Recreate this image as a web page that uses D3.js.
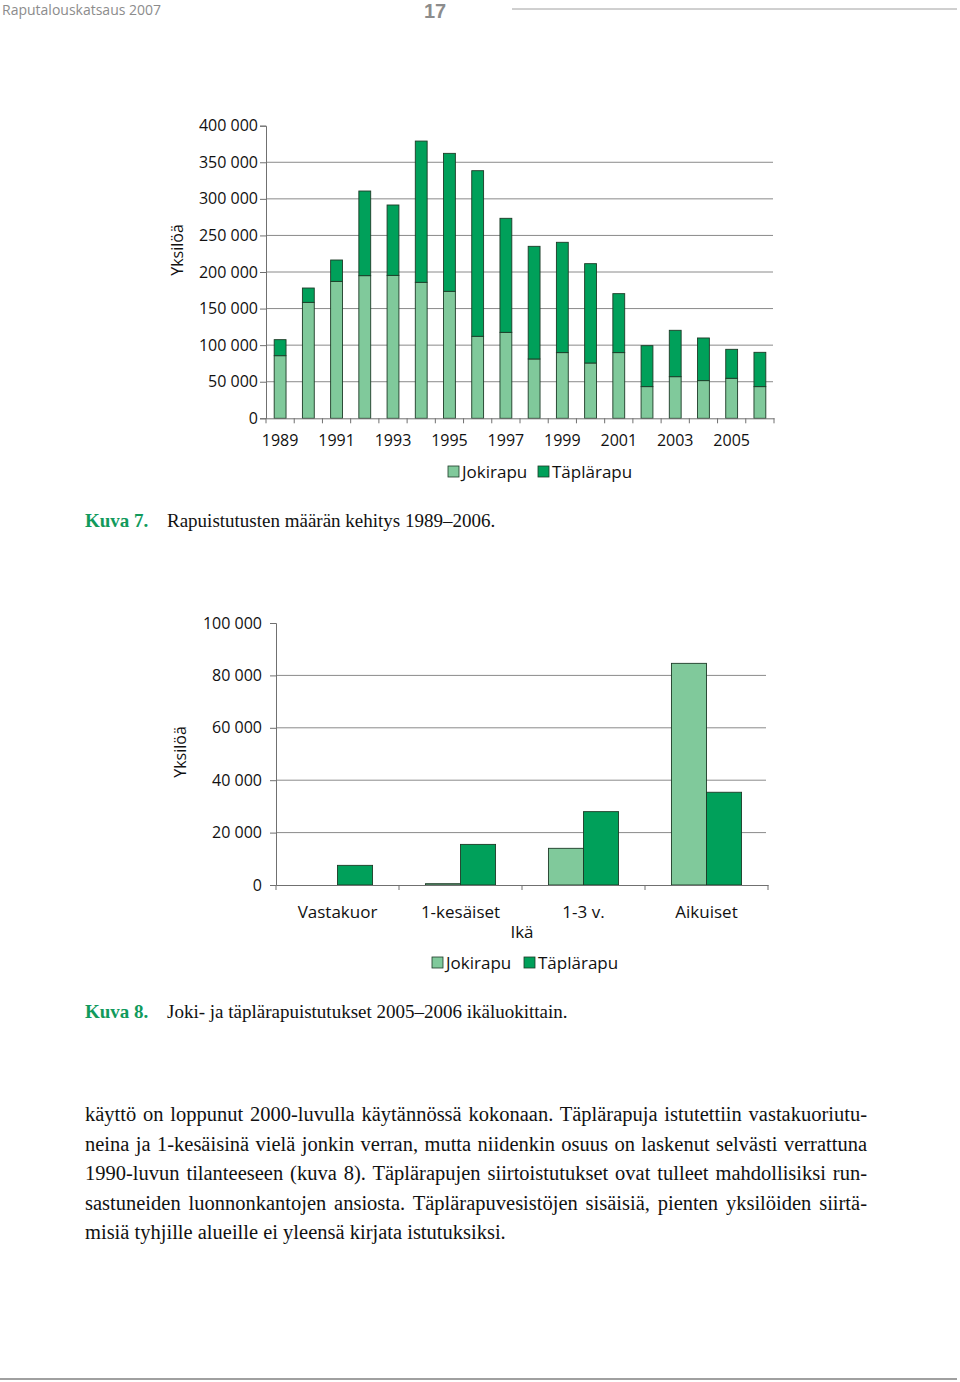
<!DOCTYPE html>
<html>
<head>
<meta charset="utf-8">
<script src="https://cdn.jsdelivr.net/npm/d3@7"></script>
<style>
  body { margin: 0; background: #fff; }
  #page { position: relative; width: 960px; height: 1382px; }
  svg { position: absolute; left: 0; top: 0; }
  .line { position: absolute; left: 85px; width: 782px; font-family: "Liberation Serif", serif;
          font-size: 20.5px; color: #111; white-space: nowrap; text-align: justify; text-align-last: justify; }
  .line.last { text-align-last: left; }
</style>
</head>
<body>
<div id="page"></div>
<script>
// chart 1: istutukset 1989-2006
var years = d3.range(1989, 2007);
var jokiTotal = [85600, 158500, 187200, 195000, 195400, 185900, 173600, 112100, 117500, 81100, 89800, 75600, 89800, 43300, 56900, 51500, 54700, 43300];
var kaikkiTotal = [107500, 178100, 216400, 310700, 291600, 379000, 362200, 338500, 273400, 235100, 240600, 211400, 170400, 99300, 120300, 109800, 94300, 90200];
var taplaTotal = kaikkiTotal.map((d, i) => d - jokiTotal[i]);

// chart 2: ikäluokat 2005-2006
var ages = ["Vastakuor", "1-kesäiset", "1-3 v.", "Aikuiset"];
var jokiAge = [0, 500, 14000, 84600];
var taplaAge = [7500, 15500, 28000, 35400];

var series = ["Jokirapu", "Täplärapu"];
var colors = { "Jokirapu": "#80c99b", "Täplärapu": "#00a05a" };

var bodyLines = [
    "käyttö on loppunut 2000-luvulla käytännössä kokonaan. Täplärapuja istutettiin vastakuoriutu-",
    "neina ja 1-kesäisinä vielä jonkin verran, mutta niidenkin osuus on laskenut selvästi verrattuna",
    "1990-luvun tilanteeseen (kuva 8). Täplärapujen siirtoistutukset ovat tulleet mahdollisiksi run-",
    "sastuneiden luonnonkantojen ansiosta. Täplärapuvesistöjen sisäisiä, pienten yksilöiden siirtä-",
    "misiä tyhjille alueille ei yleensä kirjata istutuksiksi."
];

var fmt = d3.formatLocale({ decimal: ",", thousands: " ", grouping: [3], currency: ["", "€"] }).format(",d");
var sans = "'Open Sans', sans-serif";
var axisColor = "#707070";

var page = d3.select("#page");
var svg = page.append("svg").attr("width", 960).attr("height", 1382);

// header
svg.append("text").attr("x", 2).attr("y", 15).text("Raputalouskatsaus 2007")
    .style("font-family", "'Liberation Sans Narrow', 'Open Sans', sans-serif").style("font-size", "14px").attr("fill", "#8c8c8c");
svg.append("text").attr("x", 424).attr("y", 18).text("17")
    .style("font-family", "'Liberation Sans Narrow', sans-serif").style("font-size", "20px").style("font-weight", "bold").attr("fill", "#8c8c8c");
svg.append("line").attr("x1", 512).attr("x2", 957).attr("y1", 9).attr("y2", 9).attr("stroke", "#a0a0a0");
svg.append("line").attr("x1", 0).attr("x2", 957).attr("y1", 1379).attr("y2", 1379).attr("stroke", "#a0a0a0").attr("stroke-width", 2);

function legend(g, x, y, gap) {
    var pos = [0, gap];
    series.forEach((s, i) => {
        g.append("rect").attr("x", x + pos[i]).attr("y", y - 6).attr("width", 11).attr("height", 11)
            .attr("fill", colors[s]).attr("stroke", "#1d3b27").attr("stroke-width", 0.8);
        g.append("text").attr("x", x + pos[i] + 14).attr("y", y).attr("dy", "0.35em").text(s)
            .style("font-family", sans).style("font-size", "17px").attr("fill", "#111");
    });
}

function caption(y, num, txt) {
    svg.append("text").attr("x", 85).attr("y", y).text(num)
        .style("font-family", "'Liberation Serif', serif").style("font-size", "19px").style("font-weight", "bold").attr("fill", "#119a5c");
    svg.append("text").attr("x", 167).attr("y", y).text(txt)
        .style("font-family", "'Liberation Serif', serif").style("font-size", "19px").attr("fill", "#111");
}

// ---------- Kuva 7 ----------
var g1 = svg.append("g");
var x1 = d3.scaleBand().domain(years).range([266, 774]).paddingInner(0.58).paddingOuter(0.29);
var y1 = d3.scaleLinear().domain([0, 400000]).range([418.3, 125.7]);

g1.selectAll(".grid").data(d3.range(50000, 400000, 50000)).enter().append("line")
    .attr("x1", 266).attr("x2", 773).attr("y1", d => y1(d)).attr("y2", d => y1(d))
    .attr("stroke", "#8a8a8a").attr("stroke-width", 1);

var stack1 = years.map((yr, i) => ({ year: yr, joki: jokiTotal[i], tapla: taplaTotal[i] }));
g1.selectAll(".joki").data(stack1).enter().append("rect")
    .attr("x", d => x1(d.year)).attr("width", x1.bandwidth())
    .attr("y", d => y1(d.joki)).attr("height", d => y1(0) - y1(d.joki))
    .attr("fill", colors["Jokirapu"]).attr("stroke", "#1d3b27").attr("stroke-width", 0.9);
g1.selectAll(".tapla").data(stack1).enter().append("rect")
    .attr("x", d => x1(d.year)).attr("width", x1.bandwidth())
    .attr("y", d => y1(d.joki + d.tapla)).attr("height", d => y1(d.joki) - y1(d.joki + d.tapla))
    .attr("fill", colors["Täplärapu"]).attr("stroke", "#1d3b27").attr("stroke-width", 0.9);

var yAx1 = g1.append("g").attr("transform", "translate(266,0)")
    .call(d3.axisLeft(y1).tickValues(d3.range(0, 400001, 50000)).tickFormat(fmt).tickSize(6).tickPadding(2));
var xAx1 = g1.append("g").attr("transform", "translate(0," + y1(0) + ")")
    .call(d3.axisBottom(x1).tickValues(years.filter((d, i) => i % 2 === 0)).tickSize(0).tickPadding(16));
// tick marks between bands
g1.selectAll(".btick").data(d3.range(years.length + 1)).enter().append("line")
    .attr("x1", i => x1.range()[0] + i * x1.step()).attr("x2", i => x1.range()[0] + i * x1.step())
    .attr("y1", y1(0)).attr("y2", y1(0) + 5).attr("stroke", axisColor);

g1.append("text").attr("transform", "translate(183,250) rotate(-90)").attr("text-anchor", "middle")
    .text("Yksilöä").style("font-family", sans).style("font-size", "16px").attr("fill", "#111");
legend(g1, 448, 472, 90);
caption(527, "Kuva 7.", "Rapuistutusten määrän kehitys 1989–2006.");

// ---------- Kuva 8 ----------
var g2 = svg.append("g");
var x2 = d3.scaleBand().domain(ages).range([276, 768]).paddingInner(0.43).paddingOuter(0.215);
var xs = d3.scaleBand().domain(series).range([0, x2.bandwidth()]);
var y2 = d3.scaleLinear().domain([0, 100000]).range([885, 623]);

g2.selectAll(".grid").data(d3.range(20000, 100000, 20000)).enter().append("line")
    .attr("x1", 276).attr("x2", 766).attr("y1", d => y2(d)).attr("y2", d => y2(d))
    .attr("stroke", "#8a8a8a").attr("stroke-width", 1);

var rows2 = [];
ages.forEach((a, i) => {
    rows2.push({ age: a, s: "Jokirapu", v: jokiAge[i] });
    rows2.push({ age: a, s: "Täplärapu", v: taplaAge[i] });
});
g2.selectAll(".bar").data(rows2.filter(d => d.v > 0)).enter().append("rect")
    .attr("x", d => x2(d.age) + xs(d.s)).attr("width", xs.bandwidth())
    .attr("y", d => y2(d.v)).attr("height", d => y2(0) - y2(d.v))
    .attr("fill", d => colors[d.s]).attr("stroke", "#1d3b27").attr("stroke-width", 0.9);

var yAx2 = g2.append("g").attr("transform", "translate(276,0)")
    .call(d3.axisLeft(y2).tickValues(d3.range(0, 100001, 20000)).tickFormat(fmt).tickSize(6).tickPadding(8));
var xAx2 = g2.append("g").attr("transform", "translate(0," + y2(0) + ")")
    .call(d3.axisBottom(x2).tickSize(0).tickPadding(21));
g2.selectAll(".btick").data(d3.range(ages.length + 1)).enter().append("line")
    .attr("x1", i => x2.range()[0] + i * x2.step()).attr("x2", i => x2.range()[0] + i * x2.step())
    .attr("y1", y2(0)).attr("y2", y2(0) + 5).attr("stroke", axisColor);

g2.append("text").attr("x", 522).attr("y", 932).attr("dy", "0.35em").attr("text-anchor", "middle")
    .text("Ikä").style("font-family", sans).style("font-size", "17px").attr("fill", "#111");
g2.append("text").attr("transform", "translate(186,752) rotate(-90)").attr("text-anchor", "middle")
    .text("Yksilöä").style("font-family", sans).style("font-size", "16px").attr("fill", "#111");
legend(g2, 432, 963, 92);
caption(1018, "Kuva 8.", "Joki- ja täplärapuistutukset 2005–2006 ikäluokittain.");

// axis styling
[yAx1, xAx1, yAx2, xAx2].forEach(a => {
    a.selectAll(".domain").attr("stroke", axisColor);
    a.selectAll(".tick line").attr("stroke", axisColor);
    a.selectAll("text").style("font-family", sans).style("font-size", "16px").attr("fill", "#111");
});
xAx2.selectAll("text").style("font-size", "17px");

// body text
bodyLines.forEach((t, i) => {
    page.append("div").attr("class", "line" + (i === bodyLines.length - 1 ? " last" : ""))
        .style("top", (1103 + i * 29.6) + "px").text(t);
});
</script>
</body>
</html>
